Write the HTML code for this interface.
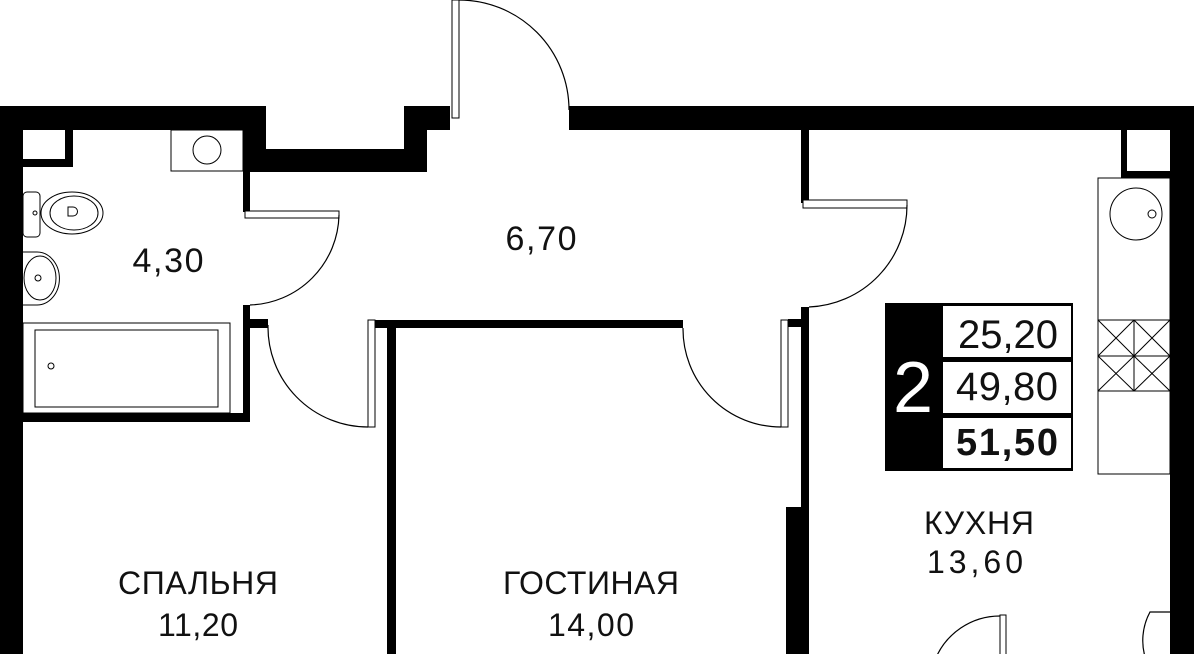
<!DOCTYPE html>
<html><head><meta charset="utf-8"><style>
html,body{margin:0;padding:0;background:#fff;width:1194px;height:654px;overflow:hidden}
svg{display:block}
text{font-family:"Liberation Sans",sans-serif;fill:#111}
</style></head><body>
<svg width="1194" height="654" viewBox="0 0 1194 654" xmlns="http://www.w3.org/2000/svg">
<g fill="#000">
<rect x="0" y="106" width="266" height="24"/>
<rect x="0" y="106" width="23" height="548"/>
<rect x="243" y="106" width="23" height="66"/>
<rect x="243" y="149" width="184" height="23"/>
<rect x="404" y="106" width="23" height="66"/>
<rect x="404" y="106" width="46" height="24"/>
<rect x="569" y="106" width="625" height="24"/>
<rect x="1170" y="106" width="24" height="548"/>
<rect x="243" y="172" width="7" height="40"/>
<rect x="243" y="305" width="7" height="117"/>
<rect x="0" y="413" width="250" height="9"/>
<rect x="250" y="319" width="18" height="9"/>
<rect x="23" y="130" width="50" height="37"/>
<rect x="375" y="320" width="308" height="8"/>
<rect x="387" y="320" width="9" height="334"/>
<rect x="788" y="319" width="13" height="8"/>
<rect x="801" y="130" width="8" height="73"/>
<rect x="801" y="307" width="8" height="347"/>
<rect x="786" y="507" width="22" height="147"/>
<rect x="1121" y="130" width="49" height="48"/>
<rect x="885" y="303" width="188" height="168"/>
</g>
<g fill="#fff">
<rect x="23" y="130" width="42" height="29"/>
<rect x="1127" y="130" width="43" height="41"/>
<rect x="943" y="306" width="128" height="51"/>
<rect x="943" y="362" width="128" height="51"/>
<rect x="943" y="418" width="128" height="50"/>
</g>
<g fill="#fff" stroke="#000" stroke-width="1">
<rect x="452" y="0" width="7" height="118"/>
<rect x="245" y="211" width="94" height="7"/>
<rect x="368" y="320" width="7" height="107"/>
<rect x="781" y="320" width="7" height="107"/>
<rect x="803" y="200" width="104" height="8"/>
<rect x="1000" y="615" width="6" height="45"/>
</g>
<g fill="none" stroke="#000" stroke-width="1.2">
<path d="M459 0 A110 110 0 0 1 569 110"/>
<path d="M339 215 A92 92 0 0 1 250 305"/>
<path d="M268 325 A100 100 0 0 0 368 427"/>
<path d="M683 328 A98 98 0 0 0 781 427"/>
<path d="M907 205 A102 102 0 0 1 809 307"/>
<path d="M1000 616 A70 70 0 0 0 935 660"/>
<path d="M1170 612 L1150 612 A60 60 0 0 0 1146 660"/>
</g>
<g fill="none" stroke="#000" stroke-width="1">
<rect x="171" y="130" width="72" height="41"/>
<circle cx="207" cy="150" r="14"/>
<rect x="23" y="192" width="17" height="45" rx="4"/>
<ellipse cx="72" cy="213" rx="31" ry="21"/>
<ellipse cx="74" cy="213" rx="24" ry="17"/>
<path d="M68 207 h5 a4 4 0 0 1 0 9 h-5z"/>
<circle cx="35" cy="213" r="2"/>
<path d="M23 252 h14 a22 26 0 0 1 0 53 h-14"/>
<ellipse cx="40" cy="278" rx="16" ry="22"/>
<circle cx="38" cy="278" r="3"/>
<rect x="23" y="323" width="207" height="90"/>
<rect x="35" y="330" width="183" height="77"/>
<circle cx="51" cy="366" r="3"/>
<rect x="1098" y="178" width="72" height="296"/>
<circle cx="1136" cy="214" r="26"/>
<circle cx="1152" cy="214" r="4"/>
<path d="M1098 320 H1170 M1098 356 H1170 M1098 391 H1170 M1134 320 V391"/>
<path d="M1098 320 L1134 356 M1134 320 L1098 356 M1134 320 L1170 356 M1170 320 L1134 356 M1098 356 L1134 391 M1134 356 L1098 391 M1134 356 L1170 391 M1170 356 L1134 391"/>
</g>
<text x="168" y="272" font-size="34" text-anchor="middle" textLength="71">4,30</text>
<text x="541" y="250" font-size="34" text-anchor="middle" textLength="71">6,70</text>
<text x="198" y="594" font-size="32" text-anchor="middle" textLength="160">СПАЛЬНЯ</text>
<text x="198" y="636" font-size="32" text-anchor="middle" textLength="80">11,20</text>
<text x="591" y="594" font-size="32" text-anchor="middle" textLength="176">ГОСТИНАЯ</text>
<text x="591" y="636" font-size="32" text-anchor="middle" textLength="86">14,00</text>
<text x="979" y="534" font-size="32" text-anchor="middle" textLength="110">КУХНЯ</text>
<text x="975" y="573" font-size="32" text-anchor="middle" textLength="96">13,60</text>
<text x="913" y="412" font-size="72" text-anchor="middle" style="fill:#fff">2</text>
<text x="1058" y="348" font-size="40" text-anchor="end" textLength="100">25,20</text>
<text x="1058" y="400" font-size="40" text-anchor="end" textLength="102">49,80</text>
<text x="1058" y="455" font-size="38" text-anchor="end" font-weight="bold" textLength="102">51,50</text>
</svg>
</body></html>
